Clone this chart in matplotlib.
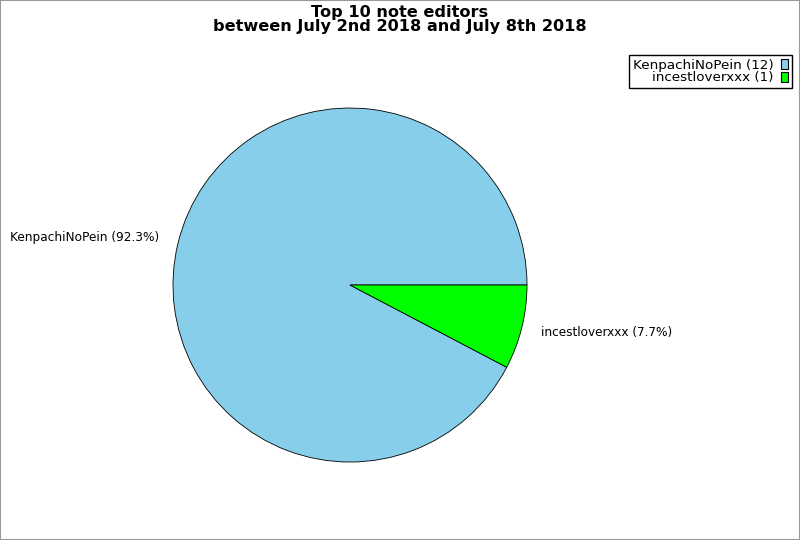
import matplotlib.pyplot as plt
from matplotlib.patches import Patch, Rectangle

# note editors over the week
editors = ['KenpachiNoPein', 'incestloverxxx']
edits = [12, 1]
colors = ['#87ceeb', '#00ff00']

total = sum(edits)
pie_labels = [f'{n} ({v / total * 100:.1f}%)' for n, v in zip(editors, edits)]
legend_labels = [f'{n} ({v})' for n, v in zip(editors, edits)]

fig = plt.figure(figsize=(8, 5.4), dpi=100)
fig.patches.append(Rectangle((0, 0), 1, 1, transform=fig.transFigure,
                             fill=False, edgecolor='#999999', linewidth=1.5))

ax = fig.add_axes([0.21625, 0.1444, 0.4425, 0.6556])
ax.pie(edits, labels=pie_labels, colors=colors, startangle=0,
       labeldistance=1.11, textprops={'fontsize': 8.7},
       wedgeprops={'edgecolor': 'black', 'linewidth': 0.6})
ax.set_xlim(-1, 1)
ax.set_ylim(-1, 1)
ax.set_aspect('equal')

fig.text(0.5, 0.99, 'Top 10 note editors\nbetween July 2nd 2018 and July 8th 2018',
         ha='center', va='top', fontsize=11.6, fontweight='bold', linespacing=0.9)

handles = [Patch(facecolor=c, edgecolor='black', linewidth=0.8) for c in colors]
fig.legend(handles, legend_labels, loc='upper right', bbox_to_anchor=(0.99, 0.898),
           markerfirst=False, fontsize=9.7, frameon=True, fancybox=False,
           edgecolor='black', framealpha=1, handlelength=0.55, handleheight=0.75,
           handletextpad=0.5, labelspacing=-0.05, borderpad=0.3, borderaxespad=0)

fig.savefig('out.png', dpi=100)
